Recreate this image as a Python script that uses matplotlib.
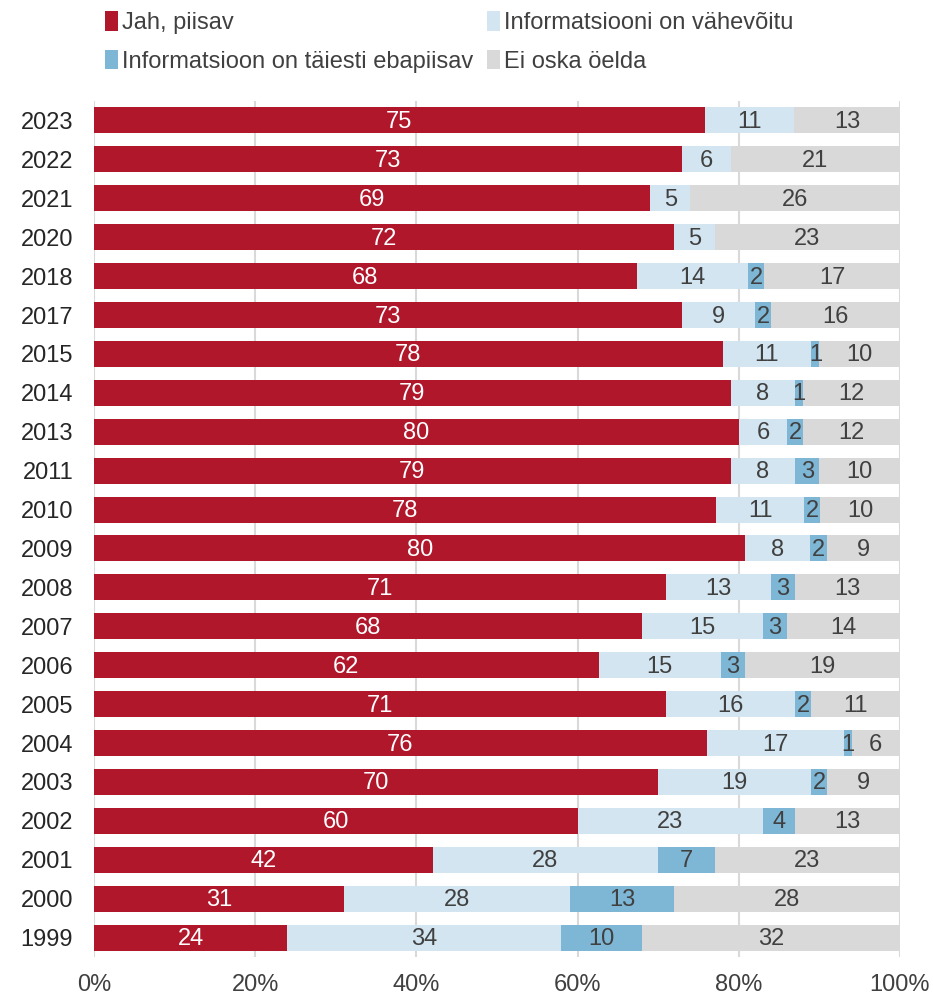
import numpy as np
import matplotlib.pyplot as plt

plt.rcParams['font.family'] = ['Liberation Sans', 'DejaVu Sans']

# Survey answers per year (percent)
years = ['2023', '2022', '2021', '2020', '2018', '2017', '2015', '2014', '2013', '2011', '2010',
         '2009', '2008', '2007', '2006', '2005', '2004', '2003', '2002', '2001', '2000', '1999']
piisav = [75, 73, 69, 72, 68, 73, 78, 79, 80, 79, 78, 80, 71, 68, 62, 71, 76, 70, 60, 42, 31, 24]
vahevoitu = [11, 6, 5, 5, 14, 9, 11, 8, 6, 8, 11, 8, 13, 15, 15, 16, 17, 19, 23, 28, 28, 34]
ebapiisav = [0, 0, 0, 0, 2, 2, 1, 1, 2, 3, 2, 2, 3, 3, 3, 2, 1, 2, 4, 7, 13, 10]
ei_oska = [13, 21, 26, 23, 17, 16, 10, 12, 12, 10, 10, 9, 13, 14, 19, 11, 6, 9, 13, 23, 28, 32]

series = [piisav, vahevoitu, ebapiisav, ei_oska]
names = ['Jah, piisav', 'Informatsiooni on vähevõitu',
         'Informatsioon on täiesti ebapiisav', 'Ei oska öelda']
colors = ['#B0172B', '#D2E5F0', '#7EB6D6', '#D9D9D9']
text_colors = ['white', '#404040', '#404040', '#404040']

data = np.array(series, dtype=float)
shares = data / data.sum(axis=0) * 100  # bars fill to 100%

fig = plt.figure(figsize=(9.33, 9.97), dpi=100)
ax = fig.add_axes([0.1008, 0.0401, 0.8638, 0.8586])

fs = 17
y = np.arange(len(years))
left = np.zeros(len(years))
handles = []
for i in range(4):
    b = ax.barh(y, shares[i], left=left, height=0.67, color=colors[i], linewidth=0, zorder=2)
    handles.append(b)
    for j in range(len(years)):
        if data[i, j] > 0:
            ax.text(left[j] + shares[i, j] / 2, y[j] + 0.04, str(int(data[i, j])),
                    ha='center', va='center', fontsize=fs, color=text_colors[i], zorder=3)
    left += shares[i]

ax.set_ylim(len(years) - 0.5, -0.5)
ax.set_xlim(0, 100)
ax.set_yticks(y)
ax.set_yticklabels(years, fontsize=fs, color='#262626')
ax.set_xticks(np.arange(0, 101, 20))
ax.set_xticklabels([f'{v}%' for v in range(0, 101, 20)], fontsize=fs, color='#404040')
ax.tick_params(length=0)
ax.tick_params(axis='y', pad=15)
ax.tick_params(axis='x', pad=12)
ax.grid(axis='x', color='#D9D9D9', linewidth=1.5, zorder=0)
for s in ax.spines.values():
    s.set_visible(False)

order = [0, 2, 1, 3]
fig.legend([handles[k] for k in order], [names[k] for k in order], ncol=2,
           loc='upper left', bbox_to_anchor=(0.09, 1.01), frameon=False,
           fontsize=fs, handlelength=0.55, handleheight=0.9, handletextpad=0.15,
           columnspacing=0.6, labelspacing=0.65, labelcolor='#404040')

fig.savefig('out.png', dpi=100)
